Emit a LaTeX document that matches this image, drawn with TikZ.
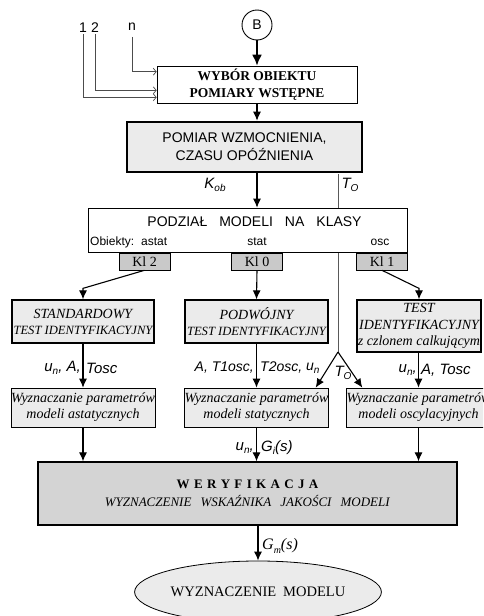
\documentclass[tikz,border=0pt]{standalone}
\usepackage{fontspec}
\setmainfont{Liberation Serif}
\setsansfont{Liberation Sans}
\usetikzlibrary{arrows.meta,calc,shapes.geometric}
\definecolor{fillg}{gray}{0.92}
\definecolor{klg}{gray}{0.79}
\definecolor{werg}{gray}{0.83}
\newcommand\lsub[1]{\raisebox{-0.2em}{\fontsize{10}{10}\selectfont #1}}
\begin{document}
\begin{tikzpicture}[x=1pt,y=-1pt,
  box/.style={draw, rectangle, inner sep=0pt, align=center},
  arr/.style={-{Latex[length=9pt,width=8pt]}, line width=1.1pt},
  arrB/.style={-{Latex[length=11pt,width=10pt]}, line width=2pt},
  inarr/.style={draw=gray!60!black, line width=0.7pt, -{Straight Barb[length=3pt,width=7pt]}},
  lab/.style={font=\sffamily\itshape\fontsize{15}{15}\selectfont, inner sep=0pt},
  labs/.style={font=\sffamily\itshape\fontsize{14}{14}\selectfont, inner sep=0pt},
  num/.style={font=\sffamily\fontsize{14}{14}\selectfont, inner sep=1pt},
  wyz/.style={box, line width=0.6pt, fill=fillg, minimum width=142pt, minimum height=39pt, font=\itshape\fontsize{14}{16}\selectfont},
  klbox/.style={box, line width=0.6pt, fill=klg, minimum width=51pt, minimum height=17pt, font=\fontsize{14}{14}\selectfont},
  tstbox/.style={box, line width=1.3pt, fill=fillg, font=\itshape\fontsize{12.6}{16}\selectfont}
]
\useasboundingbox (0,0) rectangle (483,616);
\clip (0,0) rectangle (483,616);

% top
\node[circle, draw, line width=0.9pt, minimum size=30pt, inner sep=0pt, font=\sffamily\fontsize{14}{14}\selectfont] (B) at (257,25) {B};
\node[box, line width=0.6pt, minimum width=200pt, minimum height=37pt, font=\bfseries\fontsize{13.5}{17}\selectfont] (wybor) at (257,84.5) {WYBÓR OBIEKTU\\POMIARY WSTĘPNE};
\node[num] (n1) at (83,28) {1};
\node[num] (n2) at (95,28) {2};
\node[num] (nn) at (132,27) {n};

\node[box, line width=2.6pt, fill=fillg, minimum width=235pt, minimum height=50pt, font=\sffamily\fontsize{14}{18}\selectfont] (pomiar) at (244.5,147) {POMIAR WZMOCNIENIA,\\CZASU OPÓŹNIENIA};

% test boxes
\node[tstbox, minimum width=142pt, minimum height=43pt] (std) at (83,321.5) {{\fontsize{14}{16}\selectfont STANDARDOWY}\\TEST IDENTYFIKACYJNY};
\node[tstbox, minimum width=143pt, minimum height=43pt] (podw) at (256.5,321.5) {{\fontsize{14}{16}\selectfont PODWÓJNY}\\TEST IDENTYFIKACYJNY};
\node[tstbox, minimum width=124pt, minimum height=52pt, font=\itshape\fontsize{14}{16.5}\selectfont] (test) at (419,326) {TEST\\IDENTYFIKACYJNY\\z czlonem calkującym};

\node[wyz] (wyzn1) at (83,407.5) {Wyznaczanie parametrów\\modeli astatycznych};
\node[wyz, minimum width=143pt] (wyzn2) at (256.5,407.5) {Wyznaczanie parametrów\\modeli statycznych};
\node[wyz, minimum width=143pt] (wyzn3) at (418.5,407.5) {Wyznaczanie parametrów\\modeli oscylacyjnych};

\node[box, line width=1.3pt, fill=werg, minimum width=419pt, minimum height=63pt, font=\fontsize{13}{18}\selectfont] (wer) at (247.5,493.5) {\textbf{W\,\,E\,\,R\,\,Y\,\,F\,\,I\,\,K\,\,A\,\,C\,\,J\,\,A}\\\textit{WYZNACZENIE\hspace{9pt}WSKAŹNIKA\hspace{9pt}JAKOŚCI\hspace{9pt}MODELI}};

\node[ellipse, draw, line width=0.8pt, fill=fillg, minimum width=226pt, minimum height=62pt, inner sep=0pt, font=\fontsize{14.5}{14.5}\selectfont] (model) at (258,592) {WYZNACZENIE\hspace{7pt}MODELU};

% T_O line (behind the class box)
\coordinate (toTop) at (338,174);
\coordinate (apex) at (338,352);
\draw[gray!70!black, line width=0.8pt] (toTop) -- (apex);

% class box
\node[box, line width=0.6pt, fill=white, minimum width=319pt, minimum height=44pt] (podzial) at (247.5,230) {};
\node[font=\sffamily\fontsize{14}{14}\selectfont, inner sep=0pt] (podzialt) at (254.5,222) {PODZIAŁ\hspace{12pt}MODELI\hspace{12pt}NA\hspace{12pt}KLASY};
\node[anchor=west, font=\sffamily\fontsize{12}{12}\selectfont, inner sep=0pt] (obiekty) at (90,242) {Obiekty:\hspace{7pt}astat};
\node[font=\sffamily\fontsize{12}{12}\selectfont, inner sep=0pt] (stat) at (257,242) {stat};
\node[font=\sffamily\fontsize{12}{12}\selectfont, inner sep=0pt] (osc) at (380,242) {osc};

\node[klbox] (kl2) at (144.5,261.5) {Kl 2};
\node[klbox] (kl0) at (257,261.5) {Kl 0};
\node[klbox] (kl1) at (382,261.5) {Kl 1};

% connectors
\draw[arrB] (B) -- (wybor);
\draw[inarr] (n1.south) |- ($(wybor.south west)+(0,-6)$);
\draw[inarr] (n2.south) |- ($(wybor.south west)+(0,-13)$);
\draw[inarr] ($(nn.south)+(0,5)$) |- ($(wybor.north west)+(0,6)$);
\draw[arr] (wybor.south) -- (wybor.south |- pomiar.north);
\coordinate (pk) at (wybor.south |- pomiar.south);
\draw[arr] (pk) -- (pk |- podzial.north);
\node[lab] (kob) at (215,185) {K\lsub{ob}};
\node[lab] (to1) at (350,185) {T\lsub{O}};

\draw[arr] (kl2.south) -- ($(std.north)+(0,-11)$) -- (std.north);
\draw[arr] (kl0.south) -- (podw.north);
\draw[arr] (kl1.south) -- ($(test.north)+(0,-11)$) -- (test.north);

\draw[arr] (std.south) -- (wyzn1.north);
\draw[arr] (podw.south) -- (wyzn2.north);
\draw[arr] (test.south -| wyzn3.north) -- (wyzn3.north);
\draw[arr] (apex) -- ($(wyzn2.north east)+(-13,0)$);
\draw[arr] (apex) -- ($(wyzn3.north west)+(16,0)$);

\node[lab, anchor=east] (la1) at (81,368) {u\lsub{n}, A,};
\node[lab, anchor=west] (lb1) at (86,368) {Tosc};
\node[labs, anchor=east] (la2) at (254,368) {A, T1osc,};
\node[labs, anchor=west] (lb2) at (260,368) {T2osc,};
\node[labs, anchor=west] (lc2) at (306,368) {u\lsub{n}};
\node[lab] (to2) at (343,373) {T\lsub{O}};
\node[lab, anchor=east] (la3) at (417,370) {u\lsub{n},};
\node[lab, anchor=west] (lb3) at (421,370) {A, Tosc};

\draw[arr] (wyzn1.south) -- (wyzn1.south |- wer.north);
\draw[arr] (wyzn2.south) -- (wyzn2.south |- wer.north);
\draw[arr] (wyzn3.south) -- (wyzn3.south |- wer.north);
\node[lab, anchor=east] (la4) at (254,448) {u\lsub{n},};
\node[lab, anchor=west] (lb4) at (261,448) {G\lsub{i}(s)};

\draw[arr] (model.north |- wer.south) -- (model.north);
\node[anchor=west, inner sep=0pt, font=\itshape\fontsize{16}{16}\selectfont] (gm) at (262,546) {G\lsub{m}(s)};
\end{tikzpicture}
\end{document}
